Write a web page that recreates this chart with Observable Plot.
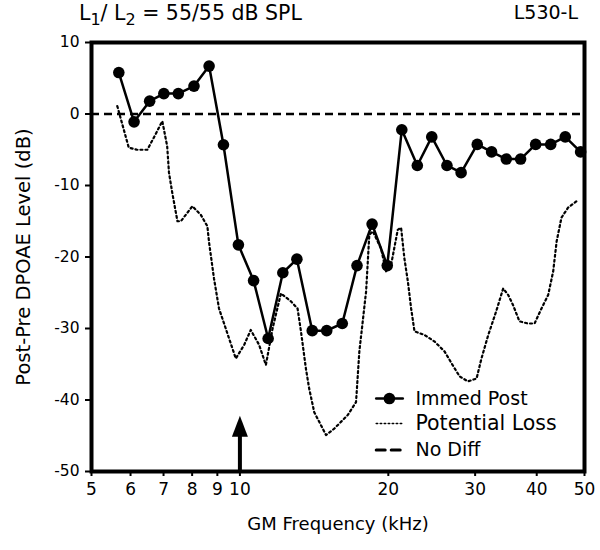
<!DOCTYPE html>
<html>
<head>
<meta charset="utf-8">
<script src="https://cdn.jsdelivr.net/npm/d3@7"></script>
<script src="https://cdn.jsdelivr.net/npm/@observablehq/plot@0.6"></script>
<style>
  html, body { margin: 0; padding: 0; background: #fff; }
  body { width: 600px; height: 550px; font-family: "DejaVu Sans", sans-serif; color: #000; }
  #head { position: relative; width: 600px; height: 30px; }
  #title { position: absolute; left: 79px; top: 1px; font-size: 20.5px; white-space: nowrap; }
  #title sub { font-size: 16px; vertical-align: -5px; line-height: 0; }
  #id { position: absolute; right: 22px; top: 1px; font-size: 19px; }
  svg { display: block; }
</style>
</head>
<body>
<div id="head">
  <div id="title">L<sub>1</sub>/ L<sub>2</sub> = 55/55 dB SPL</div>
  <div id="id">L530-L</div>
</div>
<div id="chart"></div>
<script>
// ---- data ----
const immedFreq = [5.68, 6.1, 6.56, 7.01, 7.5, 8.07, 8.66, 9.26, 9.93, 10.66, 11.41, 12.22, 13.05, 14.02, 15.0, 16.13,
  17.28, 18.54, 19.9, 21.3, 22.9, 24.5, 26.3, 28.1, 30.3, 32.4, 34.7, 37.1, 39.8, 42.7, 45.7, 49.1];
const immedDb = [5.8, -1.1, 1.8, 2.85, 2.85, 3.9, 6.7, -4.3, -18.3, -23.3, -31.4, -22.2, -20.3, -30.3, -30.3, -29.3,
  -21.2, -15.4, -21.2, -2.2, -7.2, -3.2, -7.2, -8.2, -4.25, -5.3, -6.3, -6.3, -4.25, -4.25, -3.2, -5.3];

const lossFreq = [5.64, 5.95, 6.19, 6.49, 6.69, 6.96, 7.12, 7.18, 7.29, 7.47, 7.59, 8.01, 8.33, 8.59, 8.66, 8.86,
  9.07, 9.36, 9.81, 10.2, 10.52, 10.94, 11.29, 11.65, 12.11, 12.69, 13.09, 13.3, 13.61, 13.82, 14.15, 14.95,
  15.54, 16.55, 17.2, 17.47, 18.03, 18.3, 18.6, 19.33, 19.79, 20.26, 20.9, 21.23, 21.56, 21.91, 22.25, 22.6,
  23.68, 24.8, 26.0, 27.0, 27.9, 29.0, 30.2, 30.9, 31.9, 33.1, 34.2, 35.0, 35.8, 36.9, 38.4, 39.6,
  40.9, 42.2, 43.2, 43.9, 44.9, 46.3, 48.6];
const lossDb = [1.1, -4.7, -5.0, -5.0, -3.3, -1.0, -4.5, -8.2, -11.0, -15.0, -15.0, -12.9, -14.1, -15.7, -18.0, -23.0,
  -27.2, -30.0, -34.2, -32.3, -30.2, -32.3, -35.1, -30.0, -25.1, -26.2, -27.2, -30.4, -35.6, -38.4, -41.7, -44.9,
  -44.0, -42.1, -40.3, -33.2, -24.8, -16.9, -16.4, -18.8, -22.0, -21.1, -16.2, -15.9, -20.2, -23.4, -27.2, -30.4,
  -30.9, -31.8, -33.2, -35.1, -36.7, -37.4, -37.0, -34.2, -30.9, -27.6, -24.4, -25.3, -26.7, -29.0, -29.3, -29.3,
  -27.2, -25.3, -22.0, -17.8, -14.5, -13.1, -12.0];

const noDiffDb = [0];
const xTicks = [5, 6, 7, 8, 9, 10, 20, 30, 40, 50];
const yTicks = [-50, -40, -30, -20, -10, 0, 10];

// arrow marking 10 kHz
const arrowFreq = [10];
const arrowBase = -50;
const arrowTip = -42.2;
const arrowShaftTop = -45;

// legend (in data units)
const legendLabels = ["Immed Post", "Potential Loss", "No Diff"];
const legendDb = [-39.8, -43.3, -47.0];
const legendFrom = 18.9, legendTo = 21.4, legendDot = 20.1, legendText = 22.7;

// ---- tables ----
const immed = immedFreq.map((f, i) => ({f, db: immedDb[i]}));
const loss = lossFreq.map((f, i) => ({f, db: lossDb[i]}));
const legendSeg = (i) => [{f: legendFrom, db: legendDb[i]}, {f: legendTo, db: legendDb[i]}];

// arrowhead symbol (tip at origin)
const arrowHead = {
  draw(ctx) { ctx.moveTo(0, 0); ctx.lineTo(-8, 21); ctx.lineTo(8, 21); ctx.closePath(); }
};

const chart = Plot.plot({
  width: 600,
  height: 520,
  marginTop: 12,
  marginBottom: 79,
  marginLeft: 91,
  marginRight: 16,
  x: {type: "log", domain: [5, 50]},
  y: {domain: [-50, 10]},
  style: {fontFamily: "DejaVu Sans, sans-serif", color: "#000", background: "#fff", overflow: "visible"},
  marks: [
    Plot.ruleY(noDiffDb, {stroke: "#000", strokeWidth: 2.5, strokeDasharray: "8,5"}),
    Plot.line(loss, {x: "f", y: "db", stroke: "#000", strokeWidth: 2.2, strokeDasharray: "2,3", curve: "linear"}),
    Plot.line(immed, {x: "f", y: "db", stroke: "#000", strokeWidth: 2.5}),
    Plot.dot(immed, {x: "f", y: "db", r: 5.8, fill: "#000", stroke: "none"}),
    // arrow
    Plot.ruleX(arrowFreq, {y1: arrowBase, y2: arrowShaftTop, stroke: "#000", strokeWidth: 4}),
    Plot.dot(arrowFreq, {x: d => d, y: () => arrowTip, symbol: arrowHead, r: 10, fill: "#000", stroke: "none"}),
    // legend
    Plot.line(legendSeg(0), {x: "f", y: "db", stroke: "#000", strokeWidth: 2.5}),
    Plot.dot([legendDot], {x: d => d, y: () => legendDb[0], r: 5.8, fill: "#000", stroke: "none"}),
    Plot.line(legendSeg(1), {x: "f", y: "db", stroke: "#000", strokeWidth: 1.5, strokeDasharray: "1.5,2.5"}),
    Plot.line(legendSeg(2), {x: "f", y: "db", stroke: "#000", strokeWidth: 3, strokeDasharray: "9,6"}),
    Plot.text(legendLabels, {x: () => legendText, y: (d, i) => legendDb[i], text: d => d, textAnchor: "start",
      fontSize: (d, i) => i === 1 ? 20.5 : 19, fill: "#000"}),
    // axes
    Plot.axisY({ticks: yTicks, tickSize: 6, tickPadding: 6, tickFormat: d => String(d), fontSize: 15.5, strokeWidth: 2, label: null}),
    Plot.axisX({ticks: xTicks, tickSize: 5, tickPadding: 6, tickFormat: d => String(d), fontSize: 17, strokeWidth: 2, label: null}),
    Plot.frame({stroke: "#000", strokeWidth: 4}),
    Plot.text(["GM Frequency (kHz)"], {frameAnchor: "bottom", dy: 53, lineAnchor: "middle", textAnchor: "middle", fontSize: 18, fill: "#000"}),
    Plot.text(["Post-Pre DPOAE Level (dB)"], {frameAnchor: "left", dx: -68, rotate: -90, textAnchor: "middle", lineAnchor: "middle", fontSize: 19.5, fill: "#000"})
  ]
});
document.getElementById("chart").appendChild(chart);
</script>
</body>
</html>
